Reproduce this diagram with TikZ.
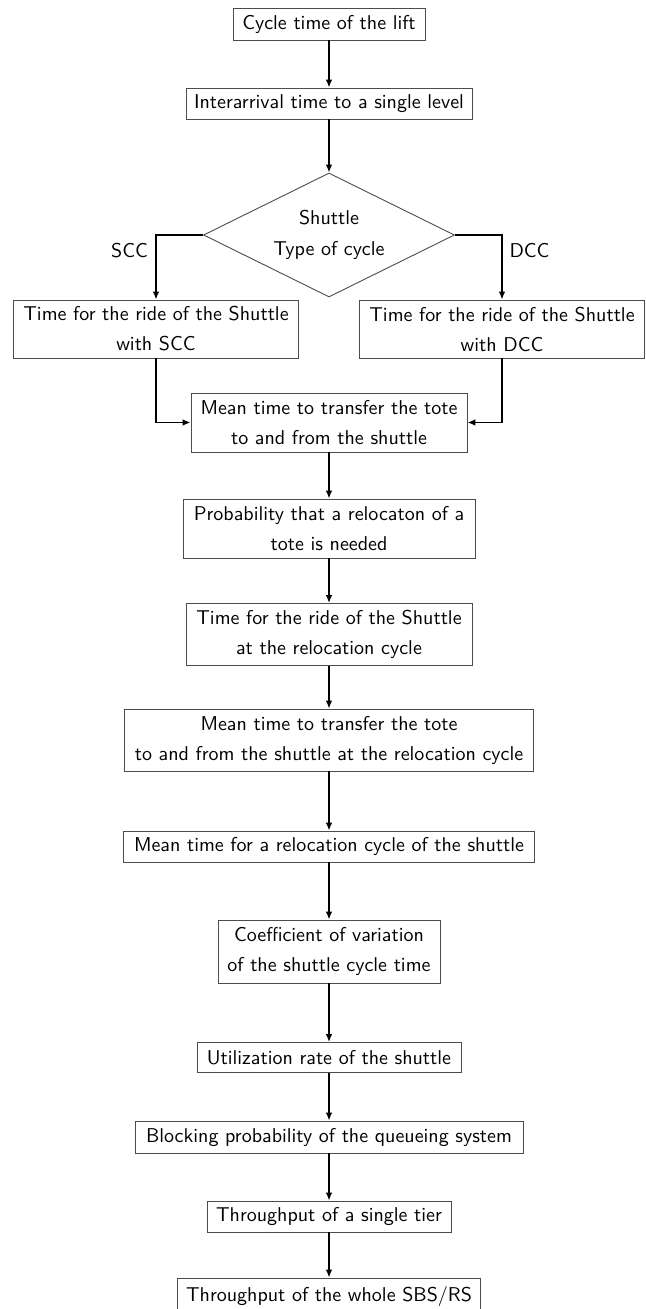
\documentclass[tikz,border=0pt]{standalone}
\usetikzlibrary{shapes.geometric,arrows.meta}
\begin{document}
\begin{tikzpicture}[x=0.5pt,y=-0.5pt,
  box/.style={draw=black!70, line width=0.45pt, align=center, inner xsep=2pt, inner ysep=1pt,
    font=\sffamily\fontsize{10pt}{15pt}\selectfont},
  dia/.style={draw=black!70, line width=0.45pt, shape=diamond, aspect=2.02, align=center, inner sep=0pt,
    font=\sffamily\fontsize{10pt}{15.5pt}\selectfont},
  lab/.style={font=\sffamily\fontsize{10pt}{12pt}\selectfont, inner sep=0pt},
  arr/.style={-{Latex[length=4pt,width=3.4pt]}, line width=0.8pt, black}]
\useasboundingbox (0,0) rectangle (646,1309);
\node[box, minimum width=96pt, minimum height=16pt] (b1) at (329,24) {Cycle time of the lift};
\node[box, minimum width=143pt, minimum height=15.5pt] (b2) at (329,103.5) {Interarrival time to a single level};
\node[dia, minimum width=125.5pt, minimum height=62pt] (d) at (329,235) {Shuttle\\Type of cycle};
\node[box, minimum width=142.5pt, minimum height=29pt] (scc) at (156,329) {Time for the ride of the Shuttle\\with SCC};
\node[box, minimum width=142.5pt, minimum height=29pt] (dcc) at (502,329) {Time for the ride of the Shuttle\\with DCC};
\node[box, minimum width=138pt, minimum height=29.5pt] (mean) at (329,422.5) {Mean time to transfer the tote\\to and from the shuttle};
\node[box, minimum width=146pt, minimum height=29.5pt] (prob) at (329,528.5) {Probability that a relocaton of a\\tote is needed};
\node[box, minimum width=143pt, minimum height=31pt] (ride) at (329,634.5) {Time for the ride of the Shuttle\\at the relocation cycle};
\node[box, minimum width=204.5pt, minimum height=31pt] (meanr) at (329,740) {Mean time to transfer the tote\\to and from the shuttle at the relocation cycle};
\node[box, minimum width=205.5pt, minimum height=15.5pt] (meanc) at (329,846.5) {Mean time for a relocation cycle of the shuttle};
\node[box, minimum width=111pt, minimum height=31.5pt] (coef) at (329,951.5) {Coefficient of variation\\of the shuttle cycle time};
\node[box, minimum width=132pt, minimum height=15pt] (util) at (329,1057.5) {Utilization rate of the shuttle};
\node[box, minimum width=194pt, minimum height=16pt] (block) at (329,1137) {Blocking probability of the queueing system};
\node[box, minimum width=122pt, minimum height=15.5pt] (tier) at (329,1216.5) {Throughput of a single tier};
\node[box, minimum width=151.5pt, minimum height=18pt] (whole) at (329,1296) {Throughput of the whole SBS/RS};
\node[lab] (lscc) at (129.5,251) {SCC};
\node[lab] (ldcc) at (529.5,251) {DCC};
\draw[arr] (b1.south) -- (b1.south |- b2.north);
\draw[arr] (b2.south) -- (b2.south |- d.north);
\draw[arr] (d.west) -| (scc.north);
\draw[arr] (d.east) -| (dcc.north);
\draw[arr] (scc.south) |- (mean.west);
\draw[arr] (dcc.south) |- (mean.east);
\draw[arr] (mean.south) -- (mean.south |- prob.north);
\draw[arr] (prob.south) -- (prob.south |- ride.north);
\draw[arr] (ride.south) -- (ride.south |- meanr.north);
\draw[arr] (meanr.south) -- (meanr.south |- meanc.north);
\draw[arr] (meanc.south) -- (meanc.south |- coef.north);
\draw[arr] (coef.south) -- (coef.south |- util.north);
\draw[arr] (util.south) -- (util.south |- block.north);
\draw[arr] (block.south) -- (block.south |- tier.north);
\draw[arr] (tier.south) -- (tier.south |- whole.north);
\end{tikzpicture}
\end{document}
